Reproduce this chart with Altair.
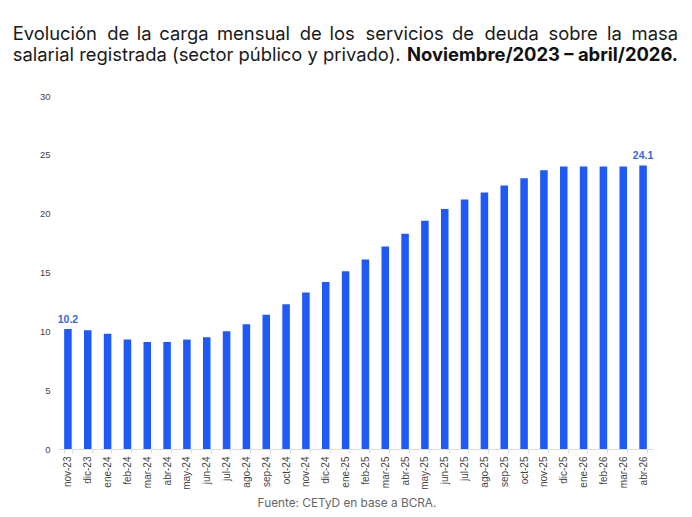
import altair as alt
import pandas as pd

months = ["nov-23", "dic-23",
          "ene-24", "feb-24", "mar-24", "abr-24", "may-24", "jun-24",
          "jul-24", "ago-24", "sep-24", "oct-24", "nov-24", "dic-24",
          "ene-25", "feb-25", "mar-25", "abr-25", "may-25", "jun-25",
          "jul-25", "ago-25", "sep-25", "oct-25", "nov-25", "dic-25",
          "ene-26", "feb-26", "mar-26", "abr-26"]
values = [10.2, 10.1,
          9.8, 9.3, 9.1, 9.1, 9.3, 9.5,
          10.0, 10.6, 11.4, 12.3, 13.3, 14.2,
          15.1, 16.1, 17.2, 18.3, 19.4, 20.4,
          21.2, 21.8, 22.4, 23.0, 23.7, 24.0,
          24.0, 24.0, 24.0, 24.1]
labeled_months = ["nov-23", "abr-26"]
y_ticks = [0, 5, 10, 15, 20, 25, 30]

# first title line is justified in the reference: one word per text mark
title_words = ["Evolución", "de", "la", "carga", "mensual", "de", "los",
               "servicios", "de", "deuda", "sobre", "la", "masa"]
title_word_px = [-45.3, 49.3, 78.7, 101.3, 159, 241.8, 271.5,
                 307.5, 394, 426.5, 490.5, 549, 620]
title_word_align = ["left"] * 12 + ["right"]
title_line2a = "salarial registrada (sector público y privado)."
title_line2b = "Noviembre/2023 – abril/2026."
source = "Fuente: CETyD en base a BCRA."

df = pd.DataFrame({"mes": months, "valor": values})

BLUE = "#1f5af6"
AXIS_FONT = "Liberation Sans"
TITLE_FONT = "Inter"
TITLE_SIZE = 18.4

x_enc = alt.X("mes:N", sort=months,
              scale=alt.Scale(paddingInner=0.62),
              axis=alt.Axis(title=None, labelAngle=270, labelFont=AXIS_FONT,
                            labelFontSize=10, labelColor="#444444",
                            domainColor="#dddddd", tickColor="#dddddd",
                            tickSize=4, tickBand="extent", labelPadding=3,
                            grid=False))
y_enc = alt.Y("valor:Q", scale=alt.Scale(domain=[0, 30], nice=False),
              axis=alt.Axis(title=None, values=y_ticks, grid=False,
                            domain=False, ticks=False, labelPadding=8,
                            labelFont=AXIS_FONT, labelFontSize=9.5,
                            labelColor="#444444"))

base = alt.Chart(df)
bars = base.mark_bar(color=BLUE).encode(x=x_enc, y=y_enc)
labels = base.transform_filter(
    alt.FieldOneOfPredicate(field="mes", oneOf=labeled_months)
).mark_text(font=AXIS_FONT, fontSize=10.5, fontWeight="bold", color="#3567e3",
            baseline="alphabetic", dy=-6).encode(
    x=alt.X("mes:N", sort=months), y="valor:Q",
    text=alt.Text("valor:Q", format=".1f"))

words_df = pd.DataFrame({"w": title_words, "px": title_word_px,
                         "al": title_word_align})
line1_left = alt.Chart(words_df).transform_filter(
    alt.datum.al == "left").mark_text(
    baseline="alphabetic", align="left", font=TITLE_FONT, fontSize=TITLE_SIZE,
    color="#1a1a1a").encode(text="w:N", x=alt.X("px:Q", scale=None),
                             y=alt.value(-56))
line1_right = alt.Chart(words_df).transform_filter(
    alt.datum.al == "right").mark_text(
    baseline="alphabetic", align="right", font=TITLE_FONT, fontSize=TITLE_SIZE,
    color="#1a1a1a").encode(text="w:N", x=alt.X("px:Q", scale=None),
                             y=alt.value(-56))


def txt(s, x, y, **kw):
    return alt.Chart(pd.DataFrame({"t": [s]})).mark_text(
        baseline="alphabetic", **kw).encode(
        text="t:N", x=alt.value(x), y=alt.value(y))


t2a = txt(title_line2a, -45.3, -35.5, align="left", font=TITLE_FONT,
          fontSize=TITLE_SIZE, color="#1a1a1a")
t2b = txt(title_line2b, 620, -35.5, align="right", font=TITLE_FONT,
          fontSize=TITLE_SIZE, fontWeight="bold", color="#111111")
src = txt(source, 289, 411, align="center", font=TITLE_FONT, fontSize=11.8,
          color="#666666")

chart = alt.layer(bars, labels, line1_left, line1_right, t2a, t2b, src).properties(
    width=595, height=353,
    autosize=alt.AutoSizeParams(type="none"),
    padding={"left": 50, "top": 88, "right": 31, "bottom": 60},
).configure_view(stroke=None)

chart.save("out.html", embed_options={"renderer": "svg", "actions": False})
